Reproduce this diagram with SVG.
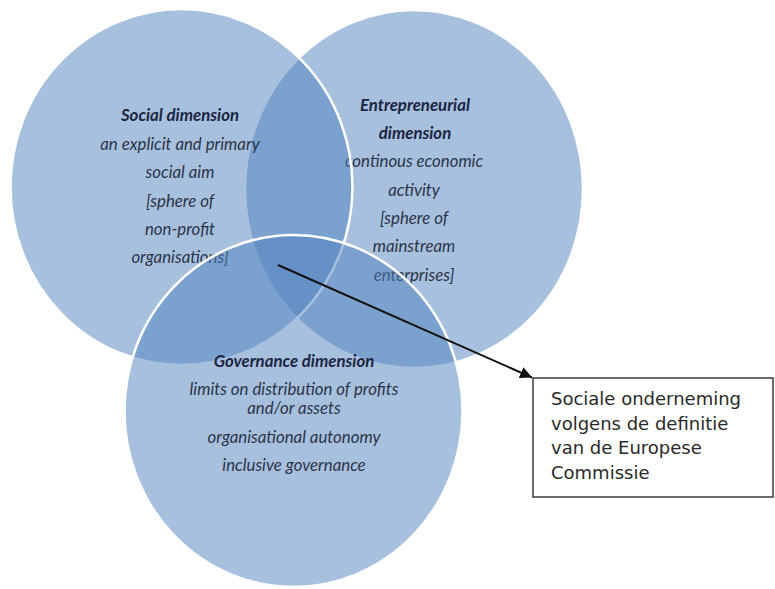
<svg xmlns="http://www.w3.org/2000/svg" width="775" height="589" viewBox="0 0 775 589">
<defs>
<style>
.circle{fill:#4F81BD;fill-opacity:0.5;stroke:#ffffff;stroke-width:2.5}
.title{font-family:Lato,"Open Sans","Liberation Sans",sans-serif;font-style:italic;font-weight:bold;font-size:16.8px;fill:#1c2541;text-anchor:middle}
.body{font-family:Lato,"Open Sans","Liberation Sans",sans-serif;font-style:italic;font-size:16.8px;fill:#2c3447;text-anchor:middle}
.box{fill:#ffffff;stroke:#3a3a3a;stroke-width:1.5}
.boxtext{font-family:"DejaVu Sans","Liberation Sans",sans-serif;font-size:18px;fill:#2a2a2a}
.conn{stroke:#111111;stroke-width:2;fill:none}
</style>
<marker id="arrow" viewBox="0 0 10 10" refX="10" refY="5" markerWidth="6" markerHeight="6" markerUnits="strokeWidth" orient="auto">
<path d="M0,0 L10,5 L0,10 Z" fill="#111111"/>
</marker>
</defs>
<rect width="775" height="589" fill="#ffffff"/>
<g id="entrepreneurial">
<ellipse class="circle" cx="414" cy="189" rx="169" ry="179"/>
<text class="title" x="415" y="111">Entrepreneurial</text>
<text class="title" x="415" y="139">dimension</text>
<text class="body" x="414" y="167">continous economic</text>
<text class="body" x="414" y="196">activity</text>
<text class="body" x="414" y="224">[sphere of</text>
<text class="body" x="414" y="252">mainstream</text>
<text class="body" x="414" y="281">enterprises]</text>
</g>
<g id="social">
<ellipse class="circle" cx="181.5" cy="187" rx="171" ry="178"/>
<text class="title" x="180" y="121">Social dimension</text>
<text class="body" x="180" y="150">an explicit and primary</text>
<text class="body" x="180" y="178">social aim</text>
<text class="body" x="180" y="207">[sphere of</text>
<text class="body" x="180" y="235">non-profit</text>
<text class="body" x="180" y="263">organisations]</text>
</g>
<g id="governance">
<ellipse class="circle" cx="293.5" cy="411" rx="169" ry="176"/>
<text class="title" x="294" y="367">Governance dimension</text>
<text class="body" x="294" y="395">limits on distribution of profits</text>
<text class="body" x="294" y="414">and/or assets</text>
<text class="body" x="294" y="443">organisational autonomy</text>
<text class="body" x="294" y="471">inclusive governance</text>
</g>
<g id="connectors">
<line class="conn" x1="278" y1="265" x2="532" y2="377.5" marker-end="url(#arrow)"/>
</g>
<g id="definition-box">
<rect class="box" x="533" y="378" width="240" height="119"/>
<text class="boxtext" x="551" y="405">Sociale onderneming</text>
<text class="boxtext" x="551" y="430">volgens de definitie</text>
<text class="boxtext" x="551" y="454">van de Europese</text>
<text class="boxtext" x="551" y="479">Commissie</text>
</g>
</svg>
